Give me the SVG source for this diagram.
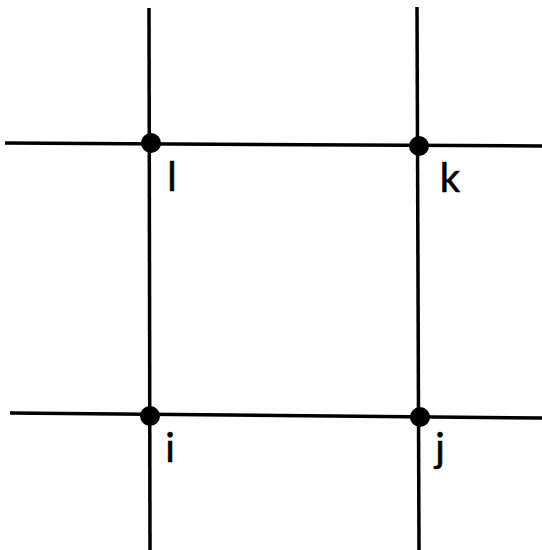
<svg xmlns="http://www.w3.org/2000/svg" width="542" height="550" viewBox="0 0 542 550">
<style>
.ln{stroke:#000;stroke-width:3.5;fill:none;stroke-linecap:butt}
.nd{fill:#000}
.lb{font-family:Lato,"Liberation Sans",sans-serif;font-size:40px;fill:#000;text-anchor:middle;stroke:#000;stroke-width:0.6}
</style>
<rect width="542" height="550" fill="#fff"/>
<g id="connectors">
<line class="ln" x1="149" y1="8" x2="150" y2="550"/>
<line class="ln" x1="417" y1="7" x2="419" y2="550"/>
<line class="ln" x1="5" y1="143" x2="542" y2="146"/>
<line class="ln" x1="10" y1="413" x2="542" y2="418"/>
</g>
<g id="node-l"><circle class="nd" cx="151" cy="143" r="10"/><text class="lb" x="172" y="191">l</text></g>
<g id="node-k"><circle class="nd" cx="419" cy="146" r="10"/><text class="lb" x="450" y="192">k</text></g>
<g id="node-i"><circle class="nd" cx="150" cy="416" r="10"/><text class="lb" x="170" y="462">i</text></g>
<g id="node-j"><circle class="nd" cx="420" cy="417" r="10"/><text class="lb" x="440" y="462">j</text></g>
</svg>
